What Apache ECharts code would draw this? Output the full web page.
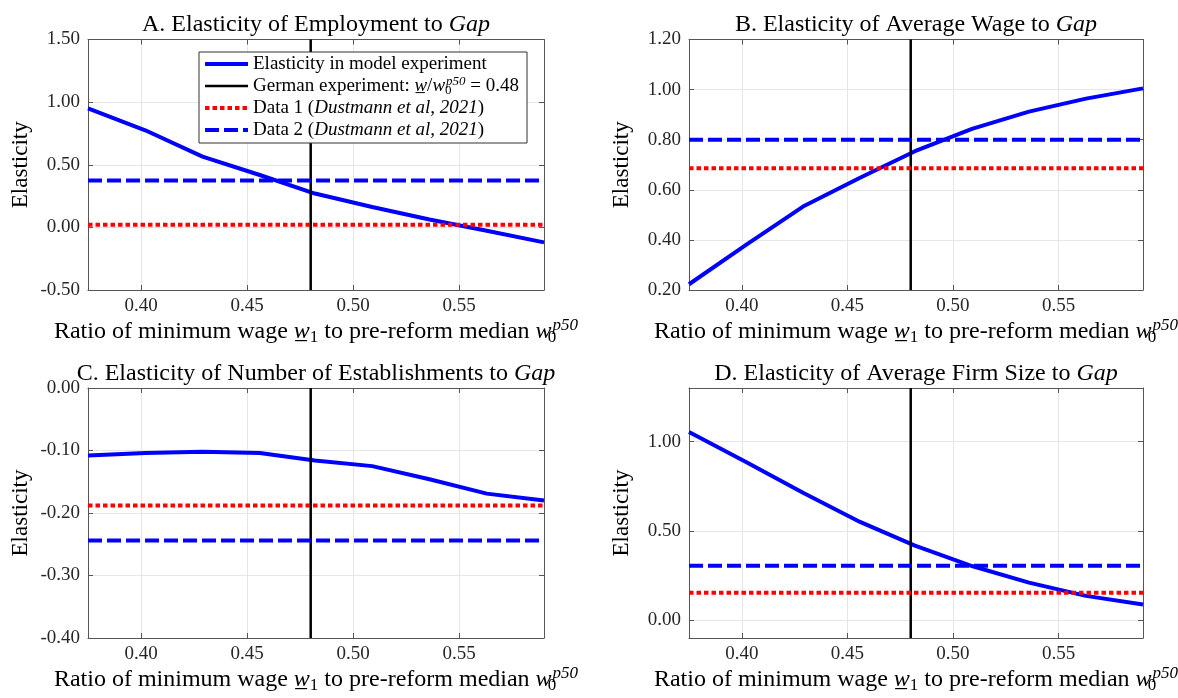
<!DOCTYPE html>
<html><head><meta charset="utf-8">
<script src="https://cdn.jsdelivr.net/npm/echarts@6/dist/echarts.min.js"></script>
<style>html,body{margin:0;padding:0;background:#fff}#c{width:1178px;height:698px}</style>
</head><body><div id="c"></div>
<script>
// ---------------- data ----------------
const xValues = [0.375, 0.402, 0.429, 0.456, 0.482, 0.509, 0.536, 0.563, 0.590];
const employmentModel = [0.95, 0.775, 0.565, 0.418, 0.27, 0.163, 0.063, -0.027, -0.12];
const wageModel = [0.223, 0.38, 0.533, 0.648, 0.754, 0.843, 0.912, 0.964, 1.005];
const establishmentsModel = [-0.108, -0.104, -0.102, -0.104, -0.116, -0.125, -0.146, -0.169, -0.180];
const firmSizeModel = [1.054, 0.886, 0.713, 0.55, 0.417, 0.303, 0.21, 0.136, 0.088];
const germanRatio = 0.48;
const data1Values = [0.02, 0.686, -0.188, 0.153];
const data2Values = [0.375, 0.80, -0.244, 0.305];
const xTicks = [0.40, 0.45, 0.50, 0.55];
const yTicksA = [-0.5, 0.0, 0.5, 1.0, 1.5];
const yTicksB = [0.2, 0.4, 0.6, 0.8, 1.0, 1.2];
const yTicksC = [-0.4, -0.3, -0.2, -0.1, 0.0];
const yTicksD = [0.0, 0.5, 1.0];
const yRangeA = [-0.5, 1.5];
const yRangeB = [0.2, 1.2];
const yRangeC = [-0.4, 0.0];
const yRangeD = [-0.1, 1.3];
const xRange = [0.375, 0.59];
const panelTitles = [
  'A. Elasticity of Employment to {it|Gap}',
  'B. Elasticity of Average Wage to {it|Gap}',
  'C. Elasticity of Number of Establishments to {it|Gap}',
  'D. Elasticity of Average Firm Size to {it|Gap}'
];
const seriesNames = [
  'Elasticity in model experiment',
  'German experiment: w/w0p50 = 0.48',
  'Data 1 (Dustmann et al, 2021)',
  'Data 2 (Dustmann et al, 2021)'
];
const legendTexts = [
  'Elasticity in model experiment',
  'German experiment: {u|w\u0332}/{i|w}{sb0|0}{sp|p50} = 0.48',
  'Data 1 ({it|Dustmann et al, 2021})',
  'Data 2 ({it|Dustmann et al, 2021})'
];
const xAxisLabel = '{n|Ratio of minimum wage }{u|w\u0332}{sb|1}{n| to pre-reform median }{i|w}{sb0|0}{sp|p50}';
const yAxisLabel = 'Elasticity';

// ---------------- layout ----------------
const FONT = 'Liberation Serif';
const grids = [
  {left: 88, top: 39.5, width: 456, height: 250.5},
  {left: 689, top: 39.5, width: 454, height: 250.5},
  {left: 88, top: 388, width: 456, height: 250},
  {left: 689, top: 388, width: 454, height: 250}
];
const models = [employmentModel, wageModel, establishmentsModel, firmSizeModel];
const yRanges = [yRangeA, yRangeB, yRangeC, yRangeD];
const yTicks = [yTicksA, yTicksB, yTicksC, yTicksD];
const AXIS_COLOR = '#555555';
const GRID_COLOR = '#e6e6e6';

function richStyles(size, lh) {
  const sub = Math.round(size * 0.7);
  return {
    n: {fontFamily: FONT, fontSize: size, lineHeight: lh, color: '#000'},
    it: {fontFamily: FONT, fontSize: size, lineHeight: lh, fontStyle: 'italic', color: '#000'},
    i: {fontFamily: FONT, fontSize: size, lineHeight: lh, fontStyle: 'italic', color: '#000'},
    u: {fontFamily: FONT, fontSize: size, lineHeight: lh, fontStyle: 'italic', color: '#000'},
    sb: {fontFamily: FONT, fontSize: sub, verticalAlign: 'bottom', color: '#000'},
    sb0: {fontFamily: FONT, fontSize: sub, verticalAlign: 'bottom', width: 1, color: '#000'},
    sp: {fontFamily: FONT, fontSize: sub, fontStyle: 'italic', verticalAlign: 'top', color: '#000'}
  };
}

const xAxes = [], yAxes = [], series = [], titles = [];
grids.forEach((g, i) => {
  const fmt = v => v.toFixed(2);
  xAxes.push({
    type: 'value', gridIndex: i, min: xRange[0], max: xRange[1], position: 'bottom',
    axisLine: {show: true, onZero: false, lineStyle: {color: AXIS_COLOR, width: 1}},
    axisTick: {show: true, inside: true, length: 5, customValues: xTicks, lineStyle: {color: AXIS_COLOR}},
    axisLabel: {show: true, customValues: xTicks, formatter: fmt, fontFamily: FONT, fontSize: 19, color: '#262626', margin: 7},
    splitLine: {show: true, lineStyle: {color: GRID_COLOR, width: 1}},
    name: xAxisLabel, nameLocation: 'middle', nameGap: 23,
    nameTextStyle: {fontFamily: FONT, fontSize: 24, lineHeight: 29, color: '#000', rich: richStyles(24, 29)}
  });
  yAxes.push({
    type: 'value', gridIndex: i, min: yRanges[i][0], max: yRanges[i][1], position: 'left',
    axisLine: {show: true, onZero: false, lineStyle: {color: AXIS_COLOR, width: 1}},
    axisTick: {show: true, inside: true, length: 5, customValues: yTicks[i], lineStyle: {color: AXIS_COLOR}},
    axisLabel: {show: true, customValues: yTicks[i], formatter: fmt, fontFamily: FONT, fontSize: 19, color: '#262626', margin: 8},
    splitLine: {show: true, lineStyle: {color: GRID_COLOR, width: 1}},
    name: yAxisLabel, nameLocation: 'middle', nameGap: 56,
    nameTextStyle: {fontFamily: FONT, fontSize: 23, color: '#000'}
  });
  titles.push({
    text: panelTitles[i], left: g.left + g.width / 2, top: g.top - 29, textAlign: 'center', padding: 0,
    textStyle: {fontFamily: FONT, fontSize: 24, fontWeight: 'normal', lineHeight: 29, color: '#000', rich: richStyles(24, 29)}
  });
});
// secondary axes (top / right ticks of the box)
grids.forEach((g, i) => {
  xAxes.push({
    type: 'value', gridIndex: i, min: xRange[0], max: xRange[1], position: 'top',
    axisLine: {show: true, onZero: false, lineStyle: {color: AXIS_COLOR, width: 1}},
    axisTick: {show: true, inside: true, length: 5, customValues: xTicks, lineStyle: {color: AXIS_COLOR}},
    axisLabel: {show: false, customValues: xTicks}, splitLine: {show: false}
  });
  yAxes.push({
    type: 'value', gridIndex: i, min: yRanges[i][0], max: yRanges[i][1], position: 'right',
    axisLine: {show: true, onZero: false, lineStyle: {color: AXIS_COLOR, width: 1}},
    axisTick: {show: true, inside: true, length: 5, customValues: yTicks[i], lineStyle: {color: AXIS_COLOR}},
    axisLabel: {show: false, customValues: yTicks[i]}, splitLine: {show: false}
  });
});

grids.forEach((g, i) => {
  const x0 = xValues[0], x1 = xValues[xValues.length - 1];
  series.push({
    name: seriesNames[0], type: 'line', xAxisIndex: i, yAxisIndex: i, symbol: 'none', smooth: false,
    data: xValues.map((x, k) => [x, models[i][k]]),
    lineStyle: {color: '#0000ff', width: 4}, itemStyle: {color: '#0000ff'}, z: 3
  });
  series.push({
    name: seriesNames[1], type: 'line', xAxisIndex: i, yAxisIndex: i, symbol: 'none',
    data: [[germanRatio, yRanges[i][0]], [germanRatio, yRanges[i][1]]],
    lineStyle: {color: '#000000', width: 2.5}, itemStyle: {color: '#000000'}, z: 4
  });
  series.push({
    name: seriesNames[2], type: 'line', xAxisIndex: i, yAxisIndex: i, symbol: 'none',
    data: [[x0, data1Values[i]], [x1, data1Values[i]]],
    lineStyle: {color: '#ff0000', width: 4, type: [4.5, 3], cap: 'butt'}, itemStyle: {color: '#ff0000'}, z: 5
  });
  series.push({
    name: seriesNames[3], type: 'line', xAxisIndex: i, yAxisIndex: i, symbol: 'none',
    data: [[x0, data2Values[i]], [x1, data2Values[i]]],
    lineStyle: {color: '#0000ff', width: 4, type: [14, 5], cap: 'butt'}, itemStyle: {color: '#0000ff'}, z: 6
  });
});

const legendMap = {};
seriesNames.forEach((n, k) => legendMap[n] = legendTexts[k]);

const option = {
  animation: false,
  backgroundColor: '#ffffff',
  title: titles,
  grid: grids.map(g => Object.assign({show: false, containLabel: false, outerBoundsMode: 'none'}, g)),
  xAxis: xAxes,
  yAxis: yAxes,
  legend: {
    data: seriesNames, left: 199, top: 52, orient: 'vertical',
    backgroundColor: '#ffffff', borderColor: '#333333', borderWidth: 1,
    padding: [1, 8, 2, 4], itemGap: 0, itemWidth: 43, itemHeight: 10,
    selectedMode: false, z: 20,
    itemStyle: {opacity: 0},
    lineStyle: {width: 'inherit', type: 'inherit', color: 'inherit', cap: 'butt'},
    formatter: name => legendMap[name],
    textStyle: {fontFamily: FONT, fontSize: 19, lineHeight: 22, color: '#000', rich: richStyles(19, 22)}
  },
  series: series
};
const chart = echarts.init(document.getElementById('c'), null, {renderer: 'canvas'});
chart.setOption(option);
</script>
</body></html>
